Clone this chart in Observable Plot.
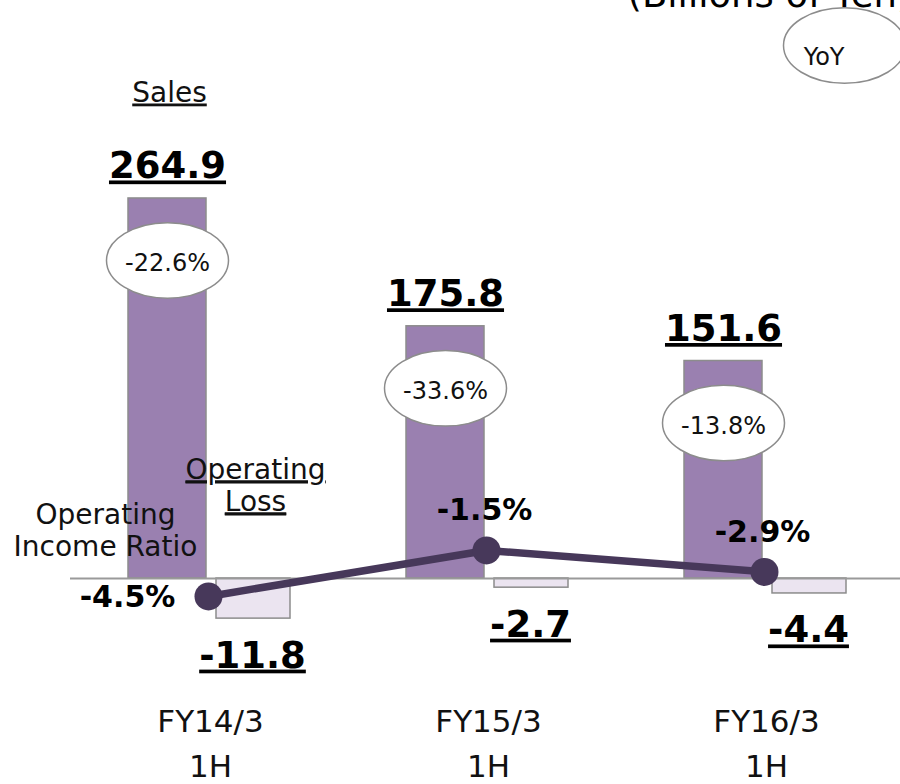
<!DOCTYPE html>
<html><head><meta charset="utf-8">
<script src="https://cdn.jsdelivr.net/npm/d3@7"></script>
<script src="https://cdn.jsdelivr.net/npm/@observablehq/plot@0.6"></script>
<style>
body{margin:0;background:#fff;}
#chart svg{display:block;}
</style></head><body><div id="chart"></div>
<script>
// ---- data ----
const categories = ["FY14/3\n1H", "FY15/3\n1H", "FY16/3\n1H"];
const sales = [264.9, 175.8, 151.6];
const salesYoY = ["-22.6%", "-33.6%", "-13.8%"];
const operatingLoss = [-11.8, -2.7, -4.4];
const incomeRatio = [-4.5, -1.5, -2.9];
const unitLabel = "(Billions of Yen)";
const yoyLabel = "YoY";
const salesLabel = "Sales";
const lossLabel = "Operating\nLoss";
const ratioLabel = "Operating\nIncome Ratio";

// secondary axes mapped into the sales axis (dual-axis chart)
const lossAxis = d3.scaleLinear().domain([0, -1]).range([0, -2.37]);
const ratioAxis = d3.scaleLinear().domain([0, -1]).range([35.6, 24.91]);

const rows = categories.map((c, i) => ({
  cat: c, sales: sales[i], yoy: salesYoY[i],
  loss: operatingLoss[i], lossY: lossAxis(operatingLoss[i]),
  ratio: incomeRatio[i], ratioY: ratioAxis(incomeRatio[i]),
  salesText: sales[i].toFixed(1), lossText: operatingLoss[i].toFixed(1),
  ratioText: incomeRatio[i].toFixed(1) + "%"
}));

const ellipse = {
  draw(context, size) {
    const r = Math.sqrt(size / Math.PI), rx = r, ry = r * 0.62, k = 0.5522847498;
    context.moveTo(rx, 0);
    context.bezierCurveTo(rx, ry * k, rx * k, ry, 0, ry);
    context.bezierCurveTo(-rx * k, ry, -rx, ry * k, -rx, 0);
    context.bezierCurveTo(-rx, -ry * k, -rx * k, -ry, 0, -ry);
    context.bezierCurveTo(rx * k, -ry, rx, -ry * k, rx, 0);
    context.closePath();
  }
};

const font = "DejaVu Sans, Verdana, sans-serif";
const barPurple = "#9a80b0";
const lossFill = "#ebe4f0";
const edge = "#8c8c8c";
const lineColor = "#47385a";

const chart = Plot.plot({
  width: 900, height: 784,
  marginLeft: 70, marginRight: 0, marginTop: 0, marginBottom: 0,
  style: {fontFamily: font, background: "#fff", overflow: "hidden"},
  x: {domain: categories, range: [71, 905], padding: 0, axis: null},
  y: {domain: [-143.6, 402.9], range: [784, 0], axis: null},
  marks: [
    Plot.barY(rows, {x: "cat", y: "sales", fill: barPurple, stroke: edge, strokeWidth: 1.5, insetLeft: 57, insetRight: 143}),
    Plot.barY(rows, {x: "cat", y: "lossY", fill: lossFill, stroke: edge, strokeWidth: 1.5, insetLeft: 145, insetRight: 59}),
    Plot.ruleY([0], {stroke: "#9a9a9a", strokeWidth: 2}),
    // YoY ellipses on the sales bars
    Plot.dot(rows, {x: "cat", y: "sales", dx: -43, dy: 62, r: 61, symbol: ellipse, fill: "white", stroke: edge, strokeWidth: 1.5}),
    Plot.text(rows, {x: "cat", y: "sales", text: "yoy", dx: -43, dy: 65, fontSize: 24, fill: "#111"}),
    // sales value labels
    Plot.text(rows, {x: "cat", y: "sales", text: "salesText", dx: -43, dy: -20, lineAnchor: "bottom", fontSize: 37, fontWeight: "bold", fill: "#000"}),
    // loss value labels
    Plot.text(rows, {x: "cat", y: "lossY", text: "lossText", dx: 42, dy: 49, lineAnchor: "bottom", fontSize: 37, fontWeight: "bold", fill: "#000"}),
    // ratio line & dots
    Plot.line(rows, {x: "cat", y: "ratioY", dx: -2, stroke: lineColor, strokeWidth: 7.5}),
    Plot.dot(rows, {x: "cat", y: "ratioY", dx: -2, r: 14, fill: lineColor}),
    Plot.text(rows, {filter: (d, i) => i === 0, x: "cat", y: "ratioY", text: "ratioText", dx: -83, dy: 11, lineAnchor: "bottom", fontSize: 30, fontWeight: "bold", fill: "#000"}),
    Plot.text(rows, {filter: (d, i) => i > 0, x: "cat", y: "ratioY", text: "ratioText", dx: -4, dy: -30, lineAnchor: "bottom", fontSize: 30, fontWeight: "bold", fill: "#000"}),
    // category labels
    Plot.text(rows, {x: "cat", text: "cat", frameAnchor: "bottom", lineAnchor: "bottom", dy: -8, fontSize: 31, lineHeight: 1.45, fill: "#111"}),
    // annotations
    Plot.text([categories[0]], {x: d => d, text: () => salesLabel, frameAnchor: "top", dx: -41, dy: 101, lineAnchor: "bottom", fontSize: 28, fill: "#111"}),
    Plot.text([categories[0]], {x: d => d, text: () => lossLabel, frameAnchor: "top", dx: 45, dy: 510, lineAnchor: "bottom", fontSize: 28, lineHeight: 1.143, fill: "#111"}),
    Plot.text([categories[0]], {x: d => d, text: () => ratioLabel, frameAnchor: "top", dx: -105, dy: 555, lineAnchor: "bottom", fontSize: 28, lineHeight: 1.143, fill: "#111"}),
    // unit and YoY legend
    Plot.text([unitLabel], {text: d => d, frameAnchor: "top-left", textAnchor: "start", dx: 557, dy: 6, lineAnchor: "bottom", fontSize: 37, fill: "#000"}),
    Plot.dot([yoyLabel], {frameAnchor: "top-right", dx: -56, dy: 45, r: 61, symbol: ellipse, fill: "white", stroke: edge, strokeWidth: 1.5}),
    Plot.text([yoyLabel], {text: d => d, frameAnchor: "top-right", dx: -56, dy: 47, fontSize: 24, fill: "#111"})
  ]
});

// underline the value labels and the series titles, as in the reference
const bigUnderlined = new Set([...rows.map(d => d.salesText), ...rows.map(d => d.lossText)]);
const smallUnderlined = new Set([salesLabel, lossLabel.replace("\n", "")]);
chart.querySelectorAll("text").forEach(t => {
  const s = t.textContent;
  if (bigUnderlined.has(s)) {
    t.setAttribute("text-decoration", "underline");
    t.style.textDecoration = "underline";
    t.style.textDecorationThickness = "4px";
    t.style.textUnderlineOffset = "3px";
  } else if (smallUnderlined.has(s)) {
    t.setAttribute("text-decoration", "underline");
    t.style.textDecoration = "underline";
    t.style.textDecorationThickness = "2px";
    t.querySelectorAll("tspan").forEach(ts => ts.style.textDecoration = "underline");
  }
});
document.getElementById("chart").appendChild(chart);
</script></body></html>
